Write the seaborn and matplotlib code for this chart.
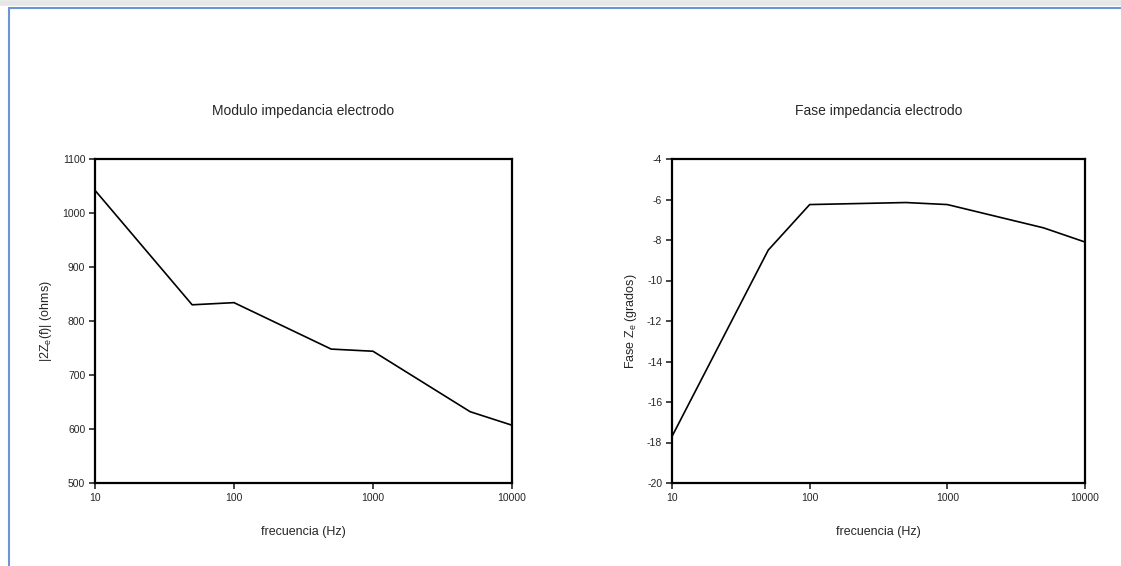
import numpy as np
import pandas as pd
import seaborn as sns
import matplotlib.pyplot as plt
from matplotlib.lines import Line2D
from matplotlib.ticker import FixedLocator, FixedFormatter, NullLocator

frecuencia = [10, 50, 100, 500, 1000, 5000, 10000]
modulo = [1042, 830, 834, 748, 744, 632, 607]
fase = [-17.7, -8.5, -6.25, -6.15, -6.25, -7.4, -8.1]
xticks = [10, 100, 1000, 10000]
xlabels = ["10", "100", "1000", "10000"]

sns.set_style("white")
plt.rcParams["font.family"] = ["Liberation Sans", "DejaVu Sans"]
plt.rcParams["mathtext.fontset"] = "custom"
plt.rcParams["mathtext.rm"] = "Liberation Sans"
plt.rcParams["mathtext.it"] = "Liberation Sans"

data = pd.DataFrame({"f": frecuencia, "mod": modulo, "fase": fase})

fig = plt.figure(figsize=(11.21, 5.66), dpi=100)
W, H = 1121, 566
ax1 = fig.add_axes([95 / W, 1 - 483 / H, (512 - 95) / W, (483 - 159) / H])
ax2 = fig.add_axes([672 / W, 1 - 483 / H, (1085 - 672) / W, (483 - 159) / H])

sns.lineplot(data=data, x="f", y="mod", ax=ax1, color="black", linewidth=1.2)
sns.lineplot(data=data, x="f", y="fase", ax=ax2, color="black", linewidth=1.2)

def style(ax, ylim, yticks, ylabel, title):
    ax.set_xscale("log")
    ax.set_xlim(10, 10000)
    ax.set_ylim(*ylim)
    ax.xaxis.set_major_locator(FixedLocator(xticks))
    ax.xaxis.set_major_formatter(FixedFormatter(xlabels))
    ax.xaxis.set_minor_locator(NullLocator())
    ax.set_yticks(yticks)
    ax.set_yticklabels([str(t) for t in yticks])
    for s in ax.spines.values():
        s.set_linewidth(1.6)
        s.set_color("black")
    ax.tick_params(direction="out", length=4, width=1.2, labelsize=7.5,
                   bottom=True, left=True, pad=3)
    ax.set_xlabel("frecuencia (Hz)", fontsize=9, labelpad=17)
    ax.set_ylabel(ylabel, fontsize=9, labelpad=6)
    ax.set_title(title, fontsize=10, pad=48 - 16)

style(ax1, (500, 1100), list(range(500, 1101, 100)),
      r"|2Z$_{\mathrm{e}}$(f)| (ohms)", "Modulo impedancia electrodo")
style(ax2, (-20, -4), list(range(-20, -3, 2)),
      r"Fase Z$_{\mathrm{e}}$ (grados)", "Fase impedancia electrodo")

# screenshot frame
fig.add_artist(Line2D([9 / W, 1], [1 - 7.5 / H, 1 - 7.5 / H], color="#6b95d4", linewidth=1.5))
fig.add_artist(Line2D([9 / W, 9 / W], [0, 1 - 7.5 / H], color="#6b95d4", linewidth=1.5))
fig.add_artist(Line2D([0, 1], [1 - 3 / H, 1 - 3 / H], color="#e6e6e6", linewidth=4))

fig.savefig("out.png", dpi=100)
